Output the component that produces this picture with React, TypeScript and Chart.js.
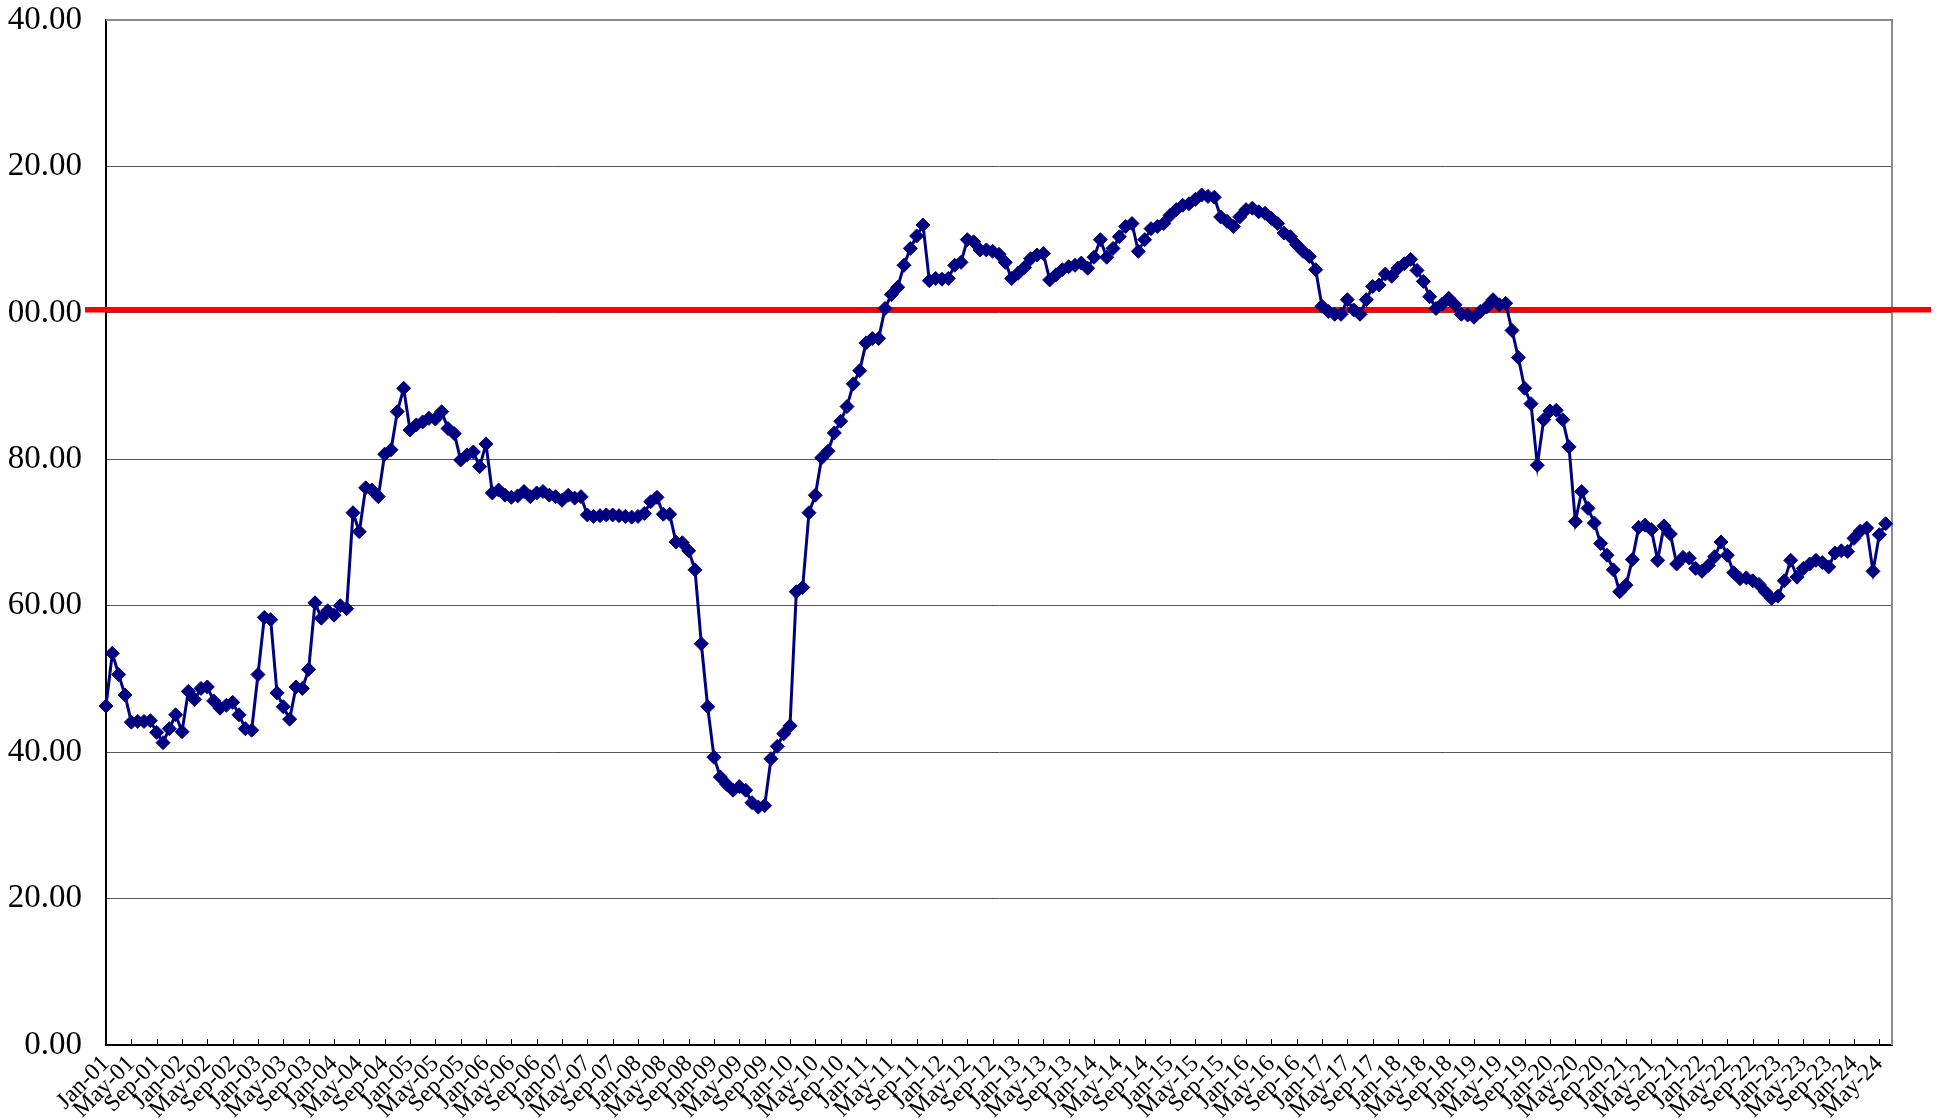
import { useEffect, useRef } from 'react';
import { Chart, registerables } from 'chart.js';

Chart.register(...registerables);

// ---- categories: monthly, Jan-01 .. Jul-24 (last slot has no value) ----
const MONTH_NAMES = ['Jan', 'Feb', 'Mar', 'Apr', 'May', 'Jun', 'Jul', 'Aug', 'Sep', 'Oct', 'Nov', 'Dec'];
const FIRST_YEAR = 2001;
const CATEGORY_COUNT = 283;
const categories: string[] = Array.from({ length: CATEGORY_COUNT }, (_, i) => {
  const yy = String((FIRST_YEAR + Math.floor(i / 12)) % 100).padStart(2, '0');
  return `${MONTH_NAMES[i % 12]}-${yy}`;
});
const LABEL_EVERY = 4;

// ---- series values ----
const values2001to2004 = [
  46.3, 53.5, 50.6, 47.8, 44.1, 44.2, 44.2, 44.3, 42.7, 41.3, 43.2, 45.1,
  42.8, 48.3, 47.2, 48.7, 48.9, 47.0, 46.0, 46.4, 46.8, 45.1, 43.2, 43.0,
  50.6, 58.4, 58.1, 48.1, 46.2, 44.5, 48.9, 48.7, 51.3, 60.4, 58.3, 59.3,
  58.7, 60.0, 59.6, 72.7, 70.1, 76.1, 75.8, 74.9, 80.7, 81.3, 86.5, 89.7,
];
const values2005to2008 = [
  84.0, 84.7, 85.1, 85.6, 85.5, 86.5, 84.2, 83.5, 79.9, 80.6, 81.0, 79.0,
  82.1, 75.4, 75.8, 75.1, 74.8, 75.0, 75.6, 74.9, 75.4, 75.6, 75.1, 74.9,
  74.4, 75.1, 74.7, 74.9, 72.4, 72.2, 72.3, 72.4, 72.4, 72.3, 72.2, 72.1,
  72.2, 72.6, 74.2, 74.8, 72.5, 72.5, 68.7, 68.6, 67.5, 64.9, 54.8, 46.2,
];
const values2009to2012 = [
  39.3, 36.6, 35.6, 34.8, 35.3, 34.8, 33.1, 32.5, 32.7, 39.1, 40.8, 42.5,
  43.6, 61.9, 62.5, 72.7, 75.1, 80.2, 81.1, 83.6, 85.2, 87.2, 90.3, 92.1,
  95.9, 96.5, 96.5, 100.6, 102.5, 103.5, 106.5, 108.8, 110.5, 112.0, 104.4, 104.7,
  104.6, 104.7, 106.5, 106.9, 110.0, 109.7, 108.6, 108.6, 108.4, 108.0, 106.9, 104.7,
];
const values2013to2016 = [
  105.4, 106.2, 107.4, 107.9, 108.1, 104.5, 105.2, 105.9, 106.3, 106.5, 106.8, 106.1,
  107.6, 110.0, 107.6, 108.8, 110.4, 111.8, 112.2, 108.4, 110.0, 111.5, 111.8, 112.2,
  113.3, 114.1, 114.7, 114.9, 115.5, 116.1, 115.9, 115.8, 113.1, 112.5, 111.8, 113.1,
  114.1, 114.3, 113.8, 113.6, 112.9, 112.2, 110.9, 110.4, 109.3, 108.4, 107.7, 105.9,
];
const values2017to2020 = [
  100.9, 100.2, 99.8, 99.8, 101.8, 100.4, 99.8, 101.8, 103.6, 103.8, 105.3, 105.0,
  106.1, 106.7, 107.3, 105.8, 104.3, 102.2, 100.6, 101.2, 102.0, 101.1, 99.8, 99.7,
  99.4, 100.2, 100.8, 101.8, 101.1, 101.3, 97.6, 93.9, 89.7, 87.6, 79.2, 85.4,
  86.6, 86.7, 85.4, 81.7, 71.5, 75.6, 73.3, 71.3, 68.5, 66.9, 64.9, 61.9,
];
const values2021to2024 = [
  62.8, 66.3, 70.7, 71.0, 70.4, 66.2, 70.9, 69.8, 65.7, 66.6, 66.5, 65.1,
  64.7, 65.5, 66.7, 68.7, 66.9, 64.5, 63.7, 63.8, 63.4, 62.9, 61.9, 61.0,
  61.3, 63.4, 66.2, 63.9, 65.1, 65.7, 66.2, 65.9, 65.3, 67.2, 67.5, 67.4,
  69.2, 70.2, 70.6, 64.7, 69.7, 71.2,
];
const seriesValues: number[] = [
  ...values2001to2004,
  ...values2005to2008,
  ...values2009to2012,
  ...values2013to2016,
  ...values2017to2020,
  ...values2021to2024,
];

// ---- y axis ticks (as they appear in the picture) ----
const yTickValues = [0, 20, 40, 60, 80, 100, 120, 140];
const yTickLabels = ['0.00', '20.00', '40.00', '60.00', '80.00', '00.00', '20.00', '40.00'];
const referenceLevel = 100;

const NAVY = '#000080';
const FONT = "'Liberation Serif', 'Times New Roman', serif";

const decorPlugin = {
  id: 'decor',
  beforeDatasetsDraw(chart: any) {
    const { ctx, chartArea: a, scales } = chart;
    const xs = scales.x;
    const ys = scales.y;
    ctx.save();
    // plot border (top & right)
    ctx.strokeStyle = '#8a8a8a';
    ctx.lineWidth = 2;
    ctx.beginPath();
    ctx.moveTo(a.left, a.top);
    ctx.lineTo(a.right, a.top);
    ctx.lineTo(a.right, a.bottom);
    ctx.stroke();
    // inner tick marks on category axis
    ctx.strokeStyle = '#000';
    ctx.lineWidth = 1;
    ctx.beginPath();
    for (let i = LABEL_EVERY; i < categories.length; i += LABEL_EVERY) {
      const px = Math.round(xs.getPixelForValue(i)) + 0.5;
      ctx.moveTo(px, a.bottom);
      ctx.lineTo(px, a.bottom - 6);
    }
    ctx.stroke();
    // red reference line
    const ry = ys.getPixelForValue(referenceLevel) - 3.2;
    ctx.strokeStyle = '#ff0000';
    ctx.lineWidth = 5.5;
    ctx.beginPath();
    ctx.moveTo(a.left - 21, ry);
    ctx.lineTo(chart.width - 6, ry);
    ctx.stroke();
    ctx.restore();
  },
};

export default function App() {
  const canvasRef = useRef<HTMLCanvasElement | null>(null);

  useEffect(() => {
    const canvas = canvasRef.current;
    if (!canvas) return;
    const chart = new Chart(canvas, {
      type: 'line',
      data: {
        labels: categories,
        datasets: [
          {
            data: seriesValues,
            borderColor: NAVY,
            backgroundColor: NAVY,
            borderWidth: 3,
            pointStyle: 'rectRot',
            pointRadius: 7,
            pointBorderWidth: 1,
            pointBackgroundColor: NAVY,
            pointBorderColor: NAVY,
            tension: 0,
            clip: false as any,
          },
        ],
      },
      options: {
        responsive: false,
        animation: false,
        events: [],
        layout: { padding: { top: 20, right: 45, bottom: 0, left: 0 } },
        plugins: {
          legend: { display: false },
          title: { display: false },
          tooltip: { enabled: false },
        },
        scales: {
          x: {
            type: 'category',
            offset: false,
            grid: { display: false, drawTicks: false },
            border: { display: true, color: '#000', width: 2 },
            ticks: {
              autoSkip: false,
              maxRotation: 45,
              minRotation: 45,
              padding: 5,
              color: '#000',
              font: { family: FONT, size: 24 },
              callback: (_v: any, idx: number) => (idx % LABEL_EVERY === 0 ? categories[idx] : null),
            },
            afterFit: (scale: any) => {
              scale.height = 75;
              scale.paddingLeft = 0;
              scale.paddingRight = 0;
            },
          },
          y: {
            min: 0,
            max: 140,
            grid: { color: '#555555', lineWidth: 1, drawTicks: false },
            border: { display: true, color: '#000', width: 2 },
            ticks: {
              stepSize: 20,
              padding: 24,
              color: '#000',
              font: { family: FONT, size: 33 },
              callback: (v: any) => {
                const k = yTickValues.indexOf(Number(v));
                return k >= 0 ? yTickLabels[k] : '';
              },
            },
            afterFit: (scale: any) => {
              scale.width = 106;
              scale.paddingTop = 0;
              scale.paddingBottom = 0;
            },
          },
        },
      },
      plugins: [decorPlugin],
    });
    return () => chart.destroy();
  }, []);

  return (
    <canvas
      ref={canvasRef}
      width={1937}
      height={1120}
      style={{ position: 'fixed', left: 0, top: 0, width: 1937, height: 1120, display: 'block', background: '#fff' }}
    />
  );
}
